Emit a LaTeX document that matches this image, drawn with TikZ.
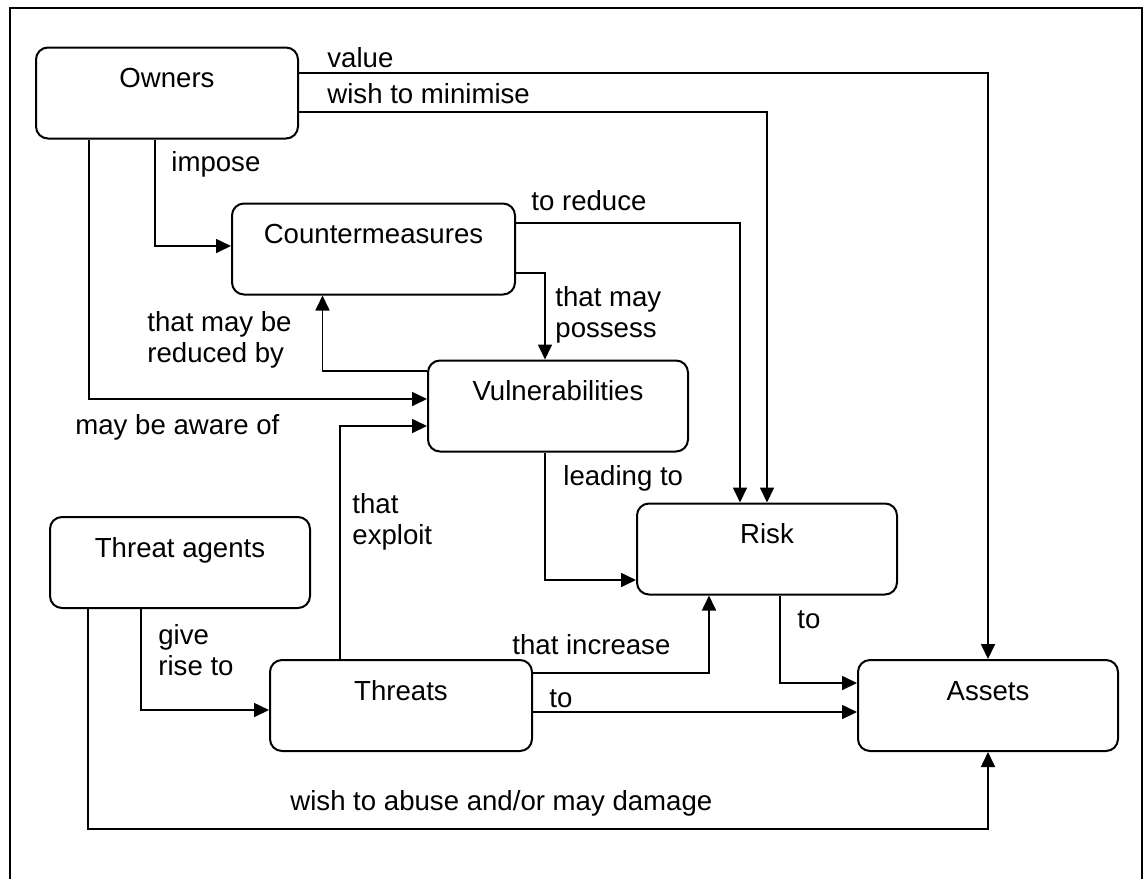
\documentclass[tikz,border=0pt]{standalone}
\usepackage{fontspec}
\setmainfont{Liberation Sans}
\usetikzlibrary{arrows.meta, calc}
\tikzset{
  box/.style   = {draw, rectangle, rounded corners=6pt, line width=1pt,
                  inner sep=0pt, text height=20pt, text depth=25.5pt,
                  minimum width=130pt},
  arr/.style   = {-{Triangle[length=7.5pt, width=7pt]}, line width=0.85pt},
  lbl/.style   = {inner sep=0pt, anchor=base west, align=left},
  frame/.style = {line width=1pt}
}

\begin{document}
\begin{tikzpicture}[x=0.5pt, y=-0.5pt, font=\fontsize{13.8}{15.5}\selectfont]

  \useasboundingbox (0,0) rectangle (1145,879);
  \draw[frame] (10,879) -- (10,8) -- (1142,8) -- (1142,879);

  % ── Entities ──────────────────────────────────────────────────────────────
  \node[box, minimum width=131pt]   (Own)  at (167,93)    {Owners};
  \node[box, minimum width=141.5pt] (CM)   at (373.5,249) {Countermeasures};
  \node[box]                        (Vul)  at (558,406)   {Vulnerabilities};
  \node[box]                        (Risk) at (767,549)   {Risk};
  \node[box]                        (Ast)  at (988,705.5) {Assets};
  \node[box]                        (TA)   at (180,562.5) {Threat agents};
  \node[box, minimum width=131pt]   (Thr)  at (401,705.5) {Threats};

  % ── Owners ────────────────────────────────────────────────────────────────
  \draw[arr] ($(Own.east)+(0,-20)$) -| (Ast.north);
  \node[lbl] (Lval) at (327,67) {value};

  \draw[arr] ($(Own.east)+(0,19)$) -| (Risk.north);
  \node[lbl] (Lmin) at (327,103) {wish to minimise};

  \draw[arr] ($(Own.south)+(-12,0)$) |- ($(CM.west)+(0,-3)$);
  \node[lbl] (Limp) at (171,171) {impose};

  \draw[arr] ($(Own.south)+(-78,0)$) |- ($(Vul.west)+(0,-7)$);
  \node[lbl] (Lawr) at (75,434) {may be aware of};

  % ── Countermeasures / Vulnerabilities ─────────────────────────────────────
  \draw[arr] ($(CM.east)+(0,-26)$) -| ($(Risk.north)+(-27,0)$);
  \node[lbl] (Lred) at (531,210) {to reduce};

  \draw[arr] ($(CM.east)+(0,24)$) -| ($(Vul.north)+(-13,0)$);
  \node[lbl] (Lpos) at (555,337) {that may\\possess};

  \draw[arr] ($(Vul.west)+(0,-35)$) -| ($(CM.south)+(-51,0)$);
  \node[lbl] (Lrby) at (147,362) {that may be\\reduced by};

  \draw[arr] ($(Vul.south)+(-13,0)$) |- ($(Risk.west)+(0,31)$);
  \node[lbl] (Llead) at (563,485) {leading to};

  % ── Threats ───────────────────────────────────────────────────────────────
  \draw[arr] ($(Thr.north)+(-61,0)$) |- ($(Vul.west)+(0,20)$);
  \node[lbl] (Lexp) at (352,544) {that\\exploit};

  \draw[arr] ($(TA.south)+(-39,0)$) |- ($(Thr.west)+(0,4.5)$);
  \node[lbl] (Lrise) at (158,675) {give\\rise to};

  \draw[arr] ($(TA.south)+(-92,0)$) -- ++(0,220) -| (Ast.south);
  \node[lbl] (Labu) at (290,810) {wish to abuse and/or may damage};

  \draw[arr] ($(Thr.east)+(0,-32.5)$) -| ($(Risk.south)+(-58,0)$);
  \node[lbl] (Linc) at (512,654) {that increase};

  \draw[arr] ($(Thr.east)+(0,6.5)$) -- ($(Ast.west)+(0,6.5)$);
  \node[lbl] (Lto) at (549,707) {to};

  \draw[arr] ($(Risk.south)+(13,0)$) |- ($(Ast.west)+(0,-22.5)$);
  \node[lbl] (Lrto) at (797,628) {to};

\end{tikzpicture}
\end{document}
